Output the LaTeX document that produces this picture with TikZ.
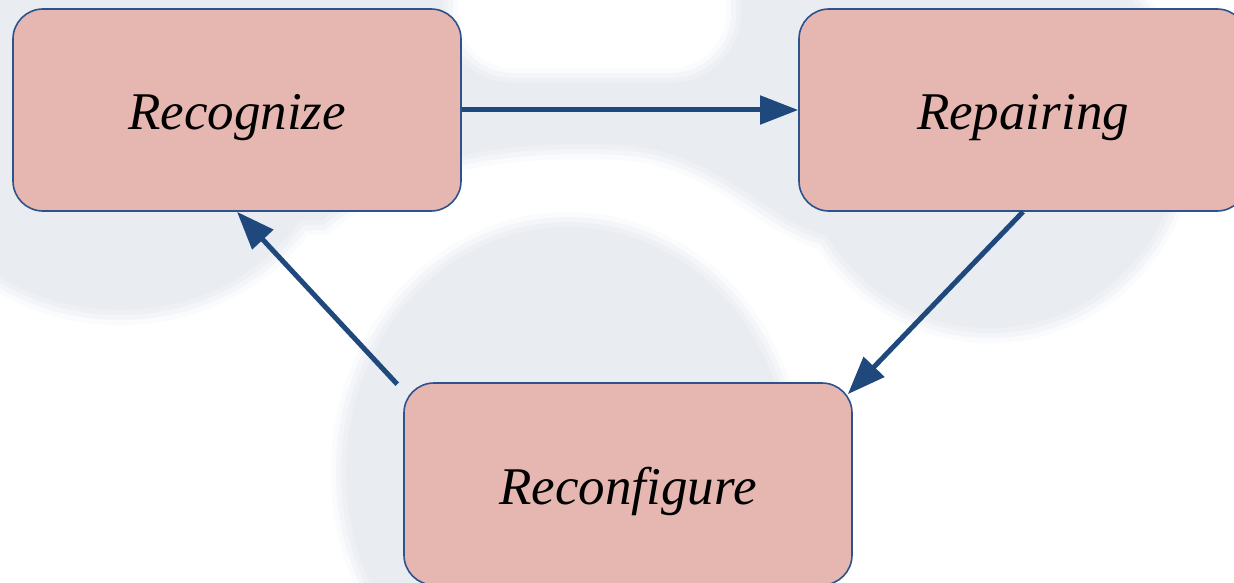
\documentclass[tikz,border=0pt]{standalone}
\usepackage{fontspec}
\setmainfont{Liberation Serif}
\usetikzlibrary{arrows.meta}

\definecolor{wm}{RGB}{233,236,241}
\colorlet{wmC}{wm!78!white}
\colorlet{wmB}{wm!50!white}
\colorlet{wmA}{wm!22!white}
\definecolor{boxfill}{RGB}{230,183,176}
\definecolor{boxline}{RGB}{45,82,140}
\definecolor{arrowc}{RGB}{31,73,125}

% soft grey backdrop shapes, drawn several times for a feathered edge
\newcommand\backdropshapes[1]{%
  \path[#1] (120,120) ellipse [x radius=212, y radius=190];
  \path[#1] (990,132) ellipse [x radius=192, y radius=196];
  \path[#1] (568,472) ellipse [x radius=222, y radius=245];
  \path[#1] (-30,-30) -- (1050,-30) -- (1050,236) -- (830,236)
    .. controls (770,225) and (720,150) .. (620,145)
    .. controls (520,140) and (400,152) .. (322,220)
    -- (-30,220) -- cycle;
}
\newcommand\backdropgap[1]{%
  \path[#1, rounded corners=55pt] (458,-60) rectangle (726,68);
}

\tikzset{
  stage/.style={draw=boxline, line width=1.6pt, fill=boxfill,
    rounded corners=30pt, minimum width=448pt, minimum height=202pt,
    inner sep=0pt, font=\fontsize{53}{60}\selectfont\itshape,
    text height=50pt, text depth=10pt},
  flow/.style={draw=arrowc, line width=5pt,
    -{Triangle[length=38pt,width=28pt]}}
}

\begin{document}
\begin{tikzpicture}[x=1pt,y=-1pt]
  \useasboundingbox (0,0) rectangle (1234,583);
  \clip (0,0) rectangle (1234,583);
  \fill[white] (0,0) rectangle (1234,583);

  % backdrop
  \backdropshapes{draw=wmA, line width=30pt}
  \backdropshapes{draw=wmB, line width=20pt}
  \backdropshapes{draw=wmC, line width=10pt}
  \backdropshapes{fill=wm}
  \backdropgap{draw=wmC, line width=30pt}
  \backdropgap{draw=wmB, line width=20pt}
  \backdropgap{draw=wmA, line width=10pt}
  \backdropgap{fill=white}

  % stages
  \node[stage] (rec)  at (237,110)  {Recognize};
  \node[stage] (rep)  at (1023,110) {Repairing};
  \node[stage] (conf) at (628,484)  {Reconfigure};

  % cycle
  \draw[flow] (rec.east) -- (rep.west);
  \draw[flow] (rep.south) -- ([shift={(-5,12)}]conf.north east);
  \draw[flow] ([shift={(-6,2)}]conf.north west) -- (rec.south);
\end{tikzpicture}
\end{document}
